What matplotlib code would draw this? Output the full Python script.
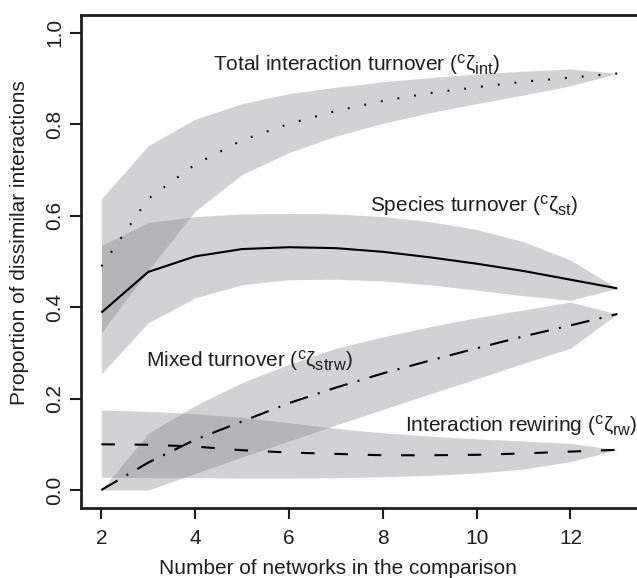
import matplotlib
matplotlib.use("Agg")
import matplotlib.pyplot as plt

try:
    import matplotlib._mathtext as _mt
    _mt.SHRINK_FACTOR = 0.78
except Exception:
    pass

plt.rcParams['font.family'] = ['Liberation Sans', 'DejaVu Sans']
plt.rcParams['mathtext.fontset'] = 'custom'
plt.rcParams['mathtext.rm'] = 'Liberation Sans'
plt.rcParams['mathtext.it'] = 'Liberation Sans'
plt.rcParams['mathtext.bf'] = 'Liberation Sans:bold'

# ---- data ----
n_networks = [2, 3, 4, 5, 6, 7, 8, 9, 10, 11, 12, 13]

total_mean = [0.489, 0.637, 0.712, 0.765, 0.801, 0.829, 0.851, 0.868, 0.881, 0.893, 0.902, 0.911]
total_upper = [0.637, 0.753, 0.811, 0.845, 0.867, 0.881, 0.893, 0.902, 0.910, 0.916, 0.921, 0.911]
total_lower = [0.344, 0.480, 0.610, 0.690, 0.738, 0.774, 0.802, 0.825, 0.845, 0.864, 0.884, 0.911]

species_mean = [0.388, 0.477, 0.511, 0.527, 0.531, 0.529, 0.521, 0.509, 0.495, 0.479, 0.460, 0.441]
species_upper = [0.535, 0.585, 0.598, 0.604, 0.605, 0.604, 0.598, 0.587, 0.570, 0.543, 0.503, 0.441]
species_lower = [0.254, 0.366, 0.420, 0.449, 0.460, 0.461, 0.457, 0.449, 0.437, 0.425, 0.415, 0.441]

mixed_mean = [0.000, 0.060, 0.110, 0.150, 0.190, 0.224, 0.255, 0.283, 0.310, 0.336, 0.360, 0.385]
mixed_upper = [0.000, 0.124, 0.185, 0.235, 0.275, 0.310, 0.335, 0.357, 0.377, 0.394, 0.411, 0.385]
mixed_lower = [0.000, 0.000, 0.036, 0.072, 0.107, 0.142, 0.176, 0.210, 0.243, 0.277, 0.310, 0.385]

rewire_mean = [0.100, 0.099, 0.095, 0.087, 0.082, 0.079, 0.076, 0.076, 0.077, 0.080, 0.084, 0.088]
rewire_upper = [0.175, 0.172, 0.167, 0.159, 0.147, 0.135, 0.125, 0.118, 0.112, 0.107, 0.102, 0.088]
rewire_lower = [0.028, 0.027, 0.027, 0.026, 0.026, 0.027, 0.029, 0.032, 0.037, 0.046, 0.062, 0.088]

x_ticks = [2, 4, 6, 8, 10, 12]
y_ticks = [0.0, 0.2, 0.4, 0.6, 0.8, 1.0]
y_ticklabels = ["0.0", "0.2", "0.4", "0.6", "0.8", "1.0"]

labels = {
    'total': r'Total interaction turnover ($^{\mathrm{c}}\zeta_{\mathrm{int}}$)',
    'species': r'Species turnover ($^{\mathrm{c}}\zeta_{\mathrm{st}}$)',
    'mixed': r'Mixed turnover ($^{\mathrm{c}}\zeta_{\mathrm{strw}}$)',
    'rewire': r'Interaction rewiring ($^{\mathrm{c}}\zeta_{\mathrm{rw}}$)',
}
xlabel = "Number of networks in the comparison"
ylabel = "Proportion of dissimilar interactions"

# ---- figure ----
W, H = 637, 578
fig = plt.figure(figsize=(W / 100, H / 100), dpi=100)
L, R, T, B = 80.7, 638.0, 14.5, 508.3
ax = fig.add_axes([L / W, 1 - B / H, (R - L) / W, (B - T) / H])
ax.set_xlim(1.56, 13.44)
ax.set_ylim(-0.04, 1.04)

txt = '#1e1e1e'
band_kw = dict(color='#808084', alpha=0.35, lw=0)
for lo, up in [(total_lower, total_upper), (species_lower, species_upper),
               (mixed_lower, mixed_upper), (rewire_lower, rewire_upper)]:
    ax.fill_between(n_networks, lo, up, **band_kw)

lw = 1.5
ax.plot(n_networks, total_mean, color='black', lw=lw, dashes=(0.9, 7.2), dash_capstyle='butt')
ax.plot(n_networks, species_mean, color='black', lw=lw, solid_capstyle='butt')
ax.plot(n_networks, mixed_mean, color='black', lw=lw, dashes=(9, 5, 1, 5), dash_capstyle='butt')
ax.plot(n_networks, rewire_mean, color='black', lw=lw, dashes=(6.5, 9.5), dash_capstyle='butt')

fs = 15
ax.text(7.45, 0.929, labels['total'], ha='center', va='center', fontsize=fs, color=txt)
ax.text(9.95, 0.62, labels['species'], ha='center', va='center', fontsize=fs, color=txt)
ax.text(5.15, 0.281, labels['mixed'], ha='center', va='center', fontsize=fs, color=txt)
ax.text(10.95, 0.14, labels['rewire'], ha='center', va='center', fontsize=fs, color=txt)

for s in ['top', 'bottom', 'left']:
    ax.spines[s].set_linewidth(2.0)
    ax.spines[s].set_color('#1e1e1e')
ax.spines['right'].set_visible(False)

ax.set_xticks(x_ticks)
ax.set_xticklabels([str(v) for v in x_ticks])
ax.set_yticks(y_ticks)
ax.set_yticklabels(y_ticklabels, rotation=90, va='center')
ax.tick_params(axis='both', length=8, width=1.5, color='#1e1e1e', labelsize=fs, labelcolor=txt)
ax.tick_params(axis='x', pad=7)
ax.tick_params(axis='y', pad=3.7)

fig.text(338 / W, 1 - 569 / H, xlabel, ha='center', va='center', fontsize=fs, color=txt)
fig.text(19.5 / W, 1 - 243 / H, ylabel, ha='center', va='center', rotation=90, fontsize=fs, color=txt)

fig.savefig('out.png', dpi=100)
